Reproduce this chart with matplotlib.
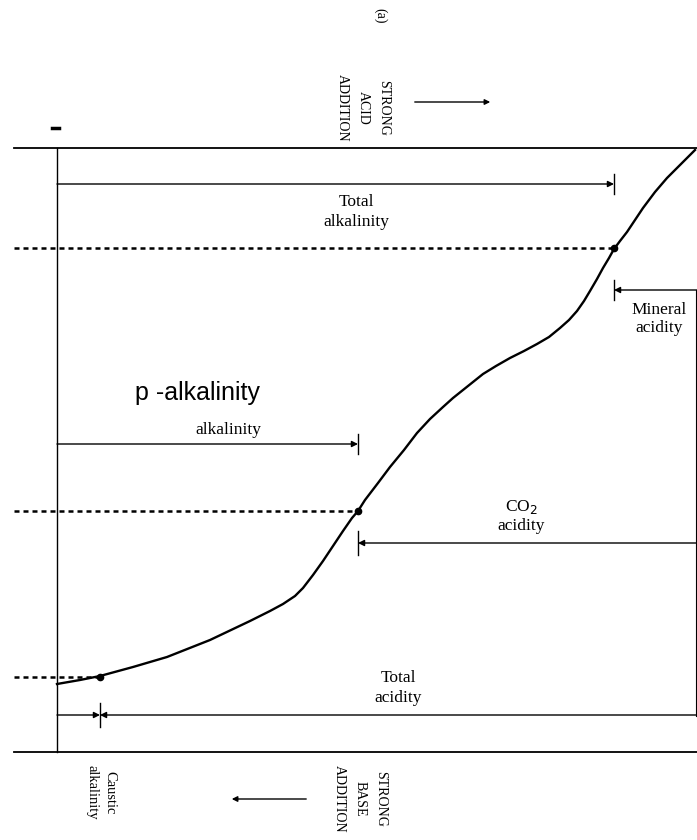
import matplotlib.pyplot as plt

# titration curve, traced in page units (x to the right, y downward)
curve_x = [57, 80, 100, 133, 167, 210, 250, 270, 283, 295, 303, 313, 323, 333, 343,
           352, 358, 365, 378, 390, 404, 417, 430, 443, 453, 463, 473, 483, 496,
           510, 524, 537, 549, 560, 569, 577, 584, 590, 597, 603, 609, 614, 620,
           627, 635, 643, 655, 667, 681, 695]
curve_y = [684, 680, 676, 667, 657, 640, 621, 611, 604, 596, 588, 575, 561, 546, 531,
           518, 511, 500, 483, 467, 450, 433, 419, 407, 398, 390, 382, 374, 366,
           358, 351, 344, 337, 328, 320, 311, 301, 291, 279, 268, 258, 249, 241,
           232, 220, 208, 192, 178, 164, 150]

# end points (caustic, p-alkalinity / CO2, total alkalinity / mineral)
end_x = [100, 358, 614]
end_y = [677, 511, 248]

# frame
left_x = 57
top_y = 148
bottom_y = 752
right_x = 696

serif = ['Liberation Serif', 'DejaVu Serif']

fig = plt.figure(figsize=(6.97, 8.4), dpi=100)
ax = fig.add_axes([0, 0, 1, 1])
ax.set_xlim(0, 697)
ax.set_ylim(840, 0)
ax.axis('off')

# outer lines
ax.plot([14, 697], [top_y, top_y], color='k', lw=1.3)
ax.plot([14, 697], [bottom_y, bottom_y], color='k', lw=1.3)
ax.plot([left_x, left_x], [top_y, bottom_y], color='k', lw=1.0)
ax.plot([right_x, right_x], [290, 716], color='k', lw=0.8)
ax.plot([52, 59], [128, 128], color='k', lw=2.5)

# curve and end points
ax.plot(curve_x, curve_y, color='k', lw=1.7, solid_joinstyle='round')
for ex, ey in zip(end_x, end_y):
    ax.plot([14, ex], [ey, ey], color='k', lw=1.8, ls=(0, (2, 1.6)))
ax.plot(end_x, end_y, 'o', color='k', ms=4.5)


def span(x0, x1, y, tick_x, tick_half=10):
    ax.annotate('', xy=(x1, y), xytext=(x0, y),
                arrowprops=dict(arrowstyle='-|>', color='k', lw=1.0,
                                mutation_scale=9, shrinkA=0, shrinkB=0))
    ax.plot([tick_x, tick_x], [y - tick_half, y + tick_half], color='k', lw=1.0)


span(left_x, end_x[2], 184, end_x[2])
span(697, end_x[2], 290, end_x[2])
span(left_x, end_x[1], 444, end_x[1])
span(697, end_x[1], 543, end_x[1], 12)
span(697, end_x[0], 715, end_x[0], 12)
ax.annotate('', xy=(end_x[0], 715), xytext=(left_x, 715),
            arrowprops=dict(arrowstyle='-|>', color='k', lw=1.0,
                            mutation_scale=9, shrinkA=0, shrinkB=0))

lab = dict(fontsize=12.5, family=serif, ha='center', va='center', linespacing=1.25)
ax.text(356, 212, 'Total\nalkalinity', **lab)
ax.text(659, 319, 'Mineral\nacidity', **lab)
ax.text(228, 430, 'alkalinity', **lab)
ax.text(521, 516, 'CO$_2$\nacidity', **lab)
ax.text(398, 688, 'Total\nacidity', **lab)

ax.text(135, 400, 'p -alkalinity', fontsize=18, family=['Liberation Sans', 'DejaVu Sans'],
        ha='left', va='baseline')

# rotated captions
rot = dict(fontsize=10, family=serif, rotation=-90, ha='center', linespacing=1.8,
           multialignment='center')
ax.text(380, 16, '(a)', va='center', **rot)
ax.text(363, 142, 'STRONG\nACID\nADDITION', va='bottom', **rot)
ax.text(360, 765, 'STRONG\nBASE\nADDITION', va='top', **rot)
ax.text(101, 765, 'Caustic\nalkalinity', va='top', fontsize=10.5, family=serif,
        rotation=-90, ha='center', linespacing=1.4)

ax.annotate('', xy=(493, 102), xytext=(412, 102),
            arrowprops=dict(arrowstyle='-|>', color='k', lw=1.0, mutation_scale=8))
ax.annotate('', xy=(229, 799), xytext=(309, 799),
            arrowprops=dict(arrowstyle='-|>', color='k', lw=1.0, mutation_scale=8))

fig.savefig('out.png', dpi=100)
